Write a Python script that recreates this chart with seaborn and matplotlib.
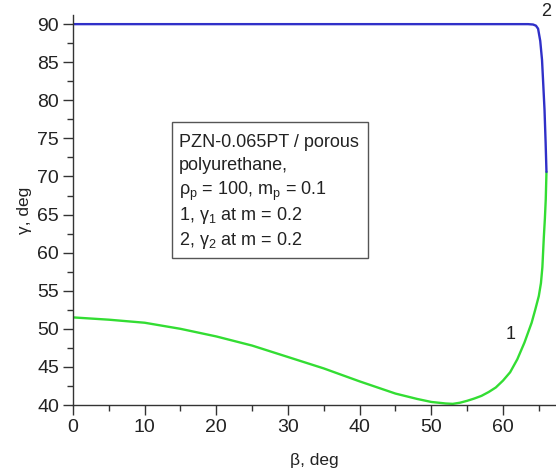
import matplotlib
matplotlib.use("Agg")
import matplotlib.pyplot as plt
import seaborn as sns
import pandas as pd
from matplotlib.ticker import MultipleLocator
from matplotlib.patches import Rectangle

# Curve 1 (gamma_1)
beta1 = [0, 5, 10, 15, 20, 25, 30, 35, 40, 45, 48, 50, 52, 53, 54, 55, 56, 57, 58,
         59, 60, 61, 62, 63, 64, 64.5, 65.0, 65.3, 65.5, 65.7, 65.85, 65.97, 66.07]
gamma1 = [51.5, 51.2, 50.8, 50.0, 49.0, 47.8, 46.3, 44.8, 43.1, 41.5, 40.8, 40.4, 40.2,
          40.15, 40.3, 40.55, 40.85, 41.2, 41.7, 42.3, 43.2, 44.3, 46.0, 48.2, 50.8,
          52.5, 54.3, 56.0, 58.1, 62.0, 64.5, 67.0, 70.6]
# Curve 2 (gamma_2)
beta2 = [66.07, 65.95, 65.8, 65.6, 65.45, 65.2, 64.9, 64.6, 64.2, 63.5, 62, 60, 50, 40,
         30, 20, 10, 0]
gamma2 = [70.6, 74.5, 78.7, 82.5, 85.3, 87.8, 89.4, 89.8, 89.95, 90.0, 90.0, 90.0, 90.0,
          90.0, 90.0, 90.0, 90.0, 90.0]

x_ticks = [0, 10, 20, 30, 40, 50, 60]
y_ticks = [40, 45, 50, 55, 60, 65, 70, 75, 80, 85, 90]

note_lines = ['PZN-0.065PT / porous',
              'polyurethane,',
              r'$\mathregular{\rho_p}$ = 100, m$\mathregular{_p}$ = 0.1',
              r'1, $\mathregular{\gamma_1}$ at m = 0.2',
              r'2, $\mathregular{\gamma_2}$ at m = 0.2']

sns.set_style("ticks")
plt.rcParams['font.family'] = ['Liberation Sans', 'DejaVu Sans']
plt.rcParams['mathtext.fontset'] = 'custom'
plt.rcParams['mathtext.rm'] = 'Liberation Sans'
plt.rcParams['mathtext.it'] = 'Liberation Sans'
plt.rcParams['mathtext.bf'] = 'Liberation Sans:bold'

txt = '#222222'
fig = plt.figure(figsize=(5.56, 4.72), dpi=100)
ax = fig.add_axes([73/556, 67/472, 483/556, 390/472])

df1 = pd.DataFrame({'beta': beta1, 'gamma': gamma1})
df2 = pd.DataFrame({'beta': beta2, 'gamma': gamma2})
sns.lineplot(data=df1, x='beta', y='gamma', sort=False, estimator=None, ax=ax,
             color='#33dd33', linewidth=1.7)
sns.lineplot(data=df2, x='beta', y='gamma', sort=False, estimator=None, ax=ax,
             color='#3030c8', linewidth=1.7)

ax.set_xlim(0, 67.4)
ax.set_ylim(40, 91.2)
ax.set_xticks(x_ticks)
ax.set_yticks(y_ticks)
ax.xaxis.set_minor_locator(MultipleLocator(5))
ax.yaxis.set_minor_locator(MultipleLocator(2.5))
ax.tick_params(which='major', direction='out', length=7, width=1, colors='#333333',
               labelsize=14, labelcolor=txt, pad=3)
ax.tick_params(which='minor', direction='out', length=4, width=1, colors='#333333')
for s in ['top', 'right']:
    ax.spines[s].set_visible(False)
for s in ['left', 'bottom']:
    ax.spines[s].set_color('#333333')
    ax.spines[s].set_linewidth(1)

ax.set_xlabel('β, deg', fontsize=12.5, color=txt, labelpad=12)
ax.set_ylabel('γ, deg', fontsize=12.5, color=txt, labelpad=4)

ax.text(61.0, 49.2, '1', fontsize=13, color=txt, ha='center', va='center')
ax.text(66.0, 91.7, '2', fontsize=13, color=txt, ha='center', va='center', clip_on=False)

# note box (axes-fraction coordinates)
ax.add_patch(Rectangle((0.205, 0.377), 0.406, 0.349, transform=ax.transAxes,
                       facecolor='white', edgecolor='#555555', linewidth=1, zorder=4))
baselines_px = [147, 170, 195, 220, 245]
for line, b in zip(note_lines, baselines_px):
    ax.text(0.2195, (405 - b) / 390, line, transform=ax.transAxes, fontsize=13,
            color=txt, ha='left', va='baseline', zorder=5)

fig.savefig('out.png', dpi=100)
